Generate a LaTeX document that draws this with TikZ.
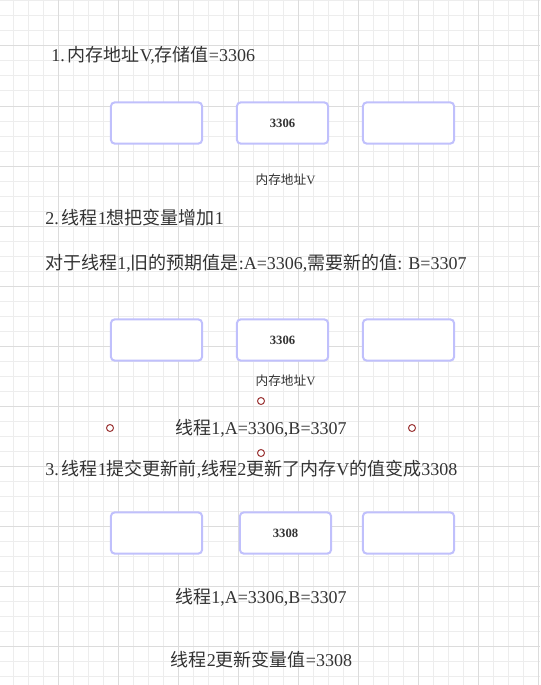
\documentclass[tikz,border=0pt]{standalone}
\usepackage{fontspec}
\setmainfont{Liberation Serif}
\newfontfamily\cjk{Noto Sans CJK SC}
% switch to the CJK font for Chinese characters, back for Latin
\XeTeXinterchartokenstate=1
\newXeTeXintercharclass\hanzi
\makeatletter
\count@="4E00
\loop\ifnum\count@<"A000
  \XeTeXcharclass\count@=\hanzi
  \advance\count@ by 1
\repeat
\makeatother
\XeTeXinterchartoks 0 \hanzi = {\cjk}
\XeTeXinterchartoks 4095 \hanzi = {\cjk}
\XeTeXinterchartoks \hanzi 0 = {\rmfamily}
\usetikzlibrary{positioning}
\definecolor{boxline}{HTML}{C0C0FC}
\definecolor{gridminor}{HTML}{EDEDED}
\definecolor{gridmajor}{HTML}{DCDCDC}
\definecolor{txt}{HTML}{333333}
\definecolor{handle}{HTML}{9B3535}
\tikzset{
  cell/.style={draw=boxline, line width=1.5pt, rounded corners=3pt, fill=white,
    minimum width=68.5pt, minimum height=31pt, inner sep=0pt,
    font=\fontsize{9.5}{11}\selectfont\bfseries, text=txt},
  big/.style={inner sep=0pt, text=txt, font=\fontsize{13.5}{15}\selectfont},
  small/.style={inner sep=0pt, text=txt, font=\fontsize{9.5}{11}\selectfont}
}

\begin{document}
\begin{tikzpicture}[x=0.75pt,y=-0.75pt]
\useasboundingbox (0,0) rectangle (540,685);
% grid
\foreach \x in {13.3,28.3,...,538.4} \draw[gridminor, line width=0.75pt] (\x,0) -- (\x,685);
\foreach \y in {1,16,...,685} \draw[gridminor, line width=0.75pt] (0,\y) -- (540,\y);
\foreach \x in {58.3,118.3,...,538.4} \draw[gridmajor, line width=0.75pt] (\x,0) -- (\x,685);
\foreach \y in {46,106,...,685} \draw[gridmajor, line width=0.75pt] (0,\y) -- (540,\y);

% step 1
\node[big, anchor=west] (stepA) at (51,55) {1.\,内存地址V,存储值=3306};
\node[cell] (memAl) at (156.5,123) {};
\node[cell] (memAm) at (282.5,123) {3306};
\node[cell] (memAr) at (408.5,123) {};
\node[small] (addrA) at (285.5,180) {内存地址V};

% step 2
\node[big, anchor=west] (stepB) at (45,218) {2.\,线程1想把变量增加1};
\node[big, anchor=west] (expect) at (45,263) {对于线程1,旧的预期值是:A=3306,需要新的值: B=3307};
\node[cell] (memBl) at (156.5,340) {};
\node[cell] (memBm) at (282.5,340) {3306};
\node[cell] (memBr) at (408.5,340) {};
\node[small] (addrB) at (285.5,381) {内存地址V};
\node[big] (threadA) at (261,428) {线程1,A=3306,B=3307};
\foreach \p in {(261,401),(110,428),(412,428),(261,453)}
  \draw[handle, fill=white, line width=0.75pt] \p circle (3.5);

% step 3
\node[big, anchor=west] (stepC) at (45,469) {3.\,线程1提交更新前,线程2更新了内存V的值变成3308};
\node[cell] (memCl) at (156.5,533) {};
\node[cell] (memCm) at (285.5,533) {3308};
\node[cell] (memCr) at (408.5,533) {};
\node[big] (threadB) at (261,597) {线程1,A=3306,B=3307};
\node[big] (threadC) at (261.5,660) {线程2更新变量值=3308};
\end{tikzpicture}
\end{document}
